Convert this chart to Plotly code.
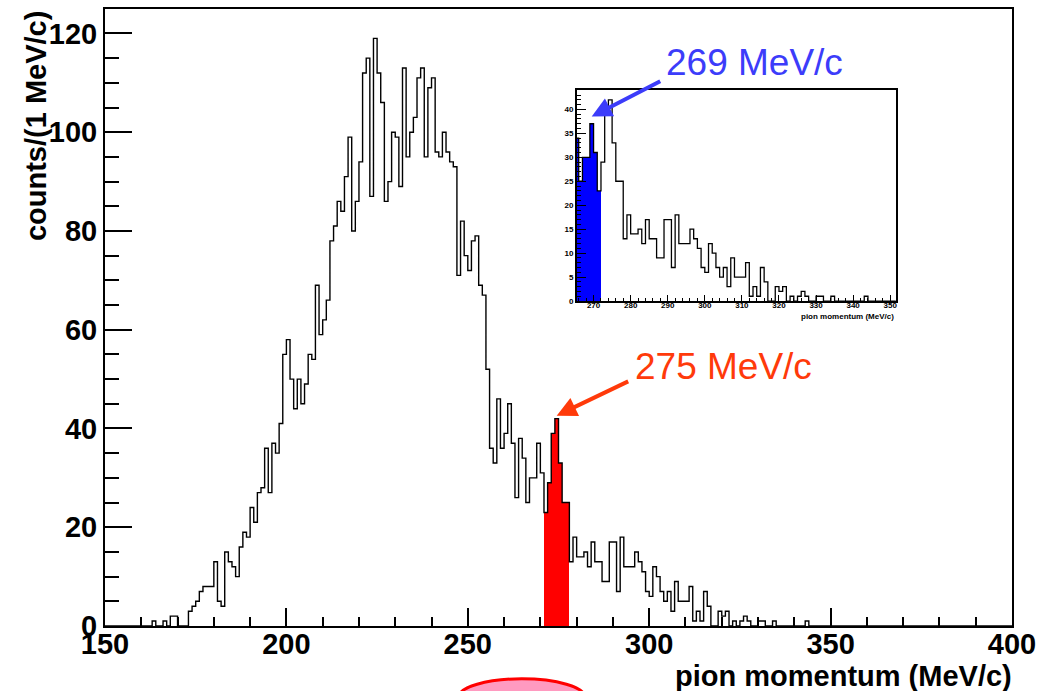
import numpy as np
import plotly.graph_objects as go

# Pion momentum spectrum, 1 MeV/c bins from 150 to 400 MeV/c
counts_150_199 = [
    0, 0, 0, 0, 0, 0, 0, 0, 0, 0,
    0, 0, 0, 1, 0, 0, 1, 0, 2, 2,
    0, 0, 0, 3, 4, 5, 7, 8, 8, 8,
    13, 5, 4, 15, 13, 12, 10, 16, 19, 18,
    24, 21, 27, 28, 36, 27, 37, 35, 41, 55,
]
counts_200_249 = [
    58, 50, 44, 50, 45, 49, 55, 54, 69, 59,
    62, 66, 78, 81, 86, 84, 91, 99, 80, 86,
    94, 112, 115, 87, 119, 112, 106, 86, 90, 100,
    99, 89, 113, 95, 100, 103, 111, 113, 95, 109,
    111, 96, 95, 100, 96, 94, 93, 71, 82, 75,
]
counts_250_299 = [
    72, 78, 79, 69, 67, 52, 36, 33, 46, 36,
    39, 45, 37, 26, 38, 34, 25, 30, 30, 37,
    31, 23, 29, 39, 42, 33, 25, 25, 13, 18,
    14, 14, 15, 12, 17, 13, 13, 9, 9, 17,
    17, 7, 18, 12, 12, 12, 15, 13, 11, 7,
]
counts_300_349 = [
    6, 12, 10, 7, 5, 7, 3, 9, 5, 5,
    5, 8, 1, 3, 1, 7, 4, 0, 0, 3,
    2, 3, 0, 1, 0, 1, 2, 1, 0, 0,
    1, 1, 0, 0, 1, 0, 0, 0, 0, 0,
    0, 0, 0, 1, 0, 0, 0, 0, 0, 0,
]
counts_350_399 = [0] * 50

# momentum windows highlighted in each panel (lower edge inclusive, upper exclusive)
red_window = (271, 278)
blue_window = (265, 272)
red_label = "275 MeV/c"
blue_label = "269 MeV/c"

x_title = "pion momentum (MeV/c)"
y_title = "counts/(1 MeV/c)"

FONT = "Liberation Sans, Arial, Helvetica, sans-serif"
RED_TXT = "#FF3A0A"
BLUE_TXT = "#3C3CFA"

counts = np.array(counts_150_199 + counts_200_249 + counts_250_299
                  + counts_300_349 + counts_350_399)
edges = np.arange(150, 401)
lo = edges[:-1]
centers = lo + 0.5
step_y = np.append(counts, counts[-1])

W, H = 1043, 691
L, R, T, B = 105, 25, 7, 65
PW, PH = W - L - R, H - T - B


def px_x(px):
    return (px - L) / PW


def px_y(py):
    return (H - B - py) / PH


red_mask = (lo >= red_window[0]) & (lo < red_window[1])
blue_mask = (lo >= blue_window[0]) & (lo < blue_window[1])

fig = go.Figure()

# main histogram: red window fill, then black step outline
fig.add_trace(go.Bar(x=centers[red_mask], y=counts[red_mask], width=1,
                     marker=dict(color="#FF0000", line=dict(width=0)),
                     xaxis="x", yaxis="y", hoverinfo="skip"))
fig.add_trace(go.Scatter(x=edges, y=step_y, mode="lines",
                         line=dict(shape="hv", color="black", width=1.4),
                         xaxis="x", yaxis="y"))

# inset: zoom on the high-momentum side with blue window
fig.add_trace(go.Bar(x=centers[blue_mask], y=counts[blue_mask], width=1,
                     marker=dict(color="#0000FF", line=dict(width=0)),
                     xaxis="x2", yaxis="y2", hoverinfo="skip"))
fig.add_trace(go.Scatter(x=edges, y=step_y, mode="lines",
                         line=dict(shape="hv", color="black", width=1.3),
                         xaxis="x2", yaxis="y2"))

tick_font = dict(family=FONT, size=29, color="black", weight="bold")
small_font = dict(family=FONT, size=8, color="black", weight="bold")

axis_common = dict(showline=True, linecolor="black", mirror=True,
                   showgrid=False, zeroline=False, ticks="inside",
                   tickcolor="black")

fig.update_layout(
    width=W, height=H,
    margin=dict(l=L, r=R, t=T, b=B, pad=0),
    paper_bgcolor="white", plot_bgcolor="white",
    showlegend=False, bargap=0, barmode="overlay",
    xaxis=dict(axis_common, range=[150, 400], linewidth=2,
               tick0=150, dtick=50, ticklen=18, tickwidth=1.5,
               minor=dict(dtick=10, ticklen=9, ticks="inside",
                          tickcolor="black", tickwidth=1.5),
               tickfont=tick_font, ticklabelstandoff=-9),
    yaxis=dict(axis_common, range=[0, 1.05 * counts.max()], linewidth=2,
               tick0=0, dtick=20, ticklen=27, tickwidth=1.5,
               minor=dict(dtick=5, ticklen=14, ticks="inside",
                          tickcolor="black", tickwidth=1.5),
               tickfont=tick_font),
    xaxis2=dict(axis_common, domain=[px_x(580), px_x(901)], anchor="y2",
                range=[265.5, 351.5], linewidth=1.5,
                tick0=270, dtick=10, ticklen=6, tickwidth=1,
                minor=dict(dtick=2, ticklen=3, ticks="inside",
                           tickcolor="black", tickwidth=1),
                tickfont=small_font, ticklabelstandoff=-4),
    yaxis2=dict(axis_common, domain=[px_y(300), px_y(88)], anchor="x2",
                range=[0, 1.05 * counts[(lo >= 265) & (lo < 352)].max()],
                linewidth=1.5,
                tick0=0, dtick=5, ticklen=9, tickwidth=1,
                minor=dict(dtick=1, ticklen=4.5, ticks="inside",
                           tickcolor="black", tickwidth=1),
                tickfont=small_font),
)

# axis titles, right-aligned at the far end of each axis
fig.add_annotation(text=x_title, xref="paper", yref="paper",
                   x=px_x(1020), y=px_y(676), xanchor="right", yanchor="middle",
                   showarrow=False,
                   font=dict(family=FONT, size=29, color="black", weight="bold"))
fig.add_annotation(text=y_title, xref="paper", yref="paper",
                   x=px_x(35), y=px_y(124), xanchor="center", yanchor="middle",
                   textangle=-90, showarrow=False,
                   font=dict(family=FONT, size=29, color="black", weight="bold"))
fig.add_annotation(text=x_title, xref="paper", yref="paper",
                   x=px_x(901), y=px_y(315), xanchor="right", yanchor="middle",
                   showarrow=False,
                   font=dict(family=FONT, size=8, color="black", weight="bold"))

# arrows to the peak of each highlighted window
r_idx = np.argmax(np.where(red_mask, counts, -1))
b_idx = np.argmax(np.where(blue_mask, counts, -1))
fig.add_annotation(x=centers[r_idx], y=counts[r_idx] + 0.6, xref="x", yref="y",
                   ax=73, ay=-35, text="", showarrow=True,
                   arrowhead=2, arrowsize=1, arrowwidth=4, arrowcolor=RED_TXT)
fig.add_annotation(x=centers[b_idx], y=counts[b_idx] + 1.5, xref="x2", yref="y2",
                   ax=70, ay=-36, text="", showarrow=True,
                   arrowhead=2, arrowsize=1, arrowwidth=4, arrowcolor=BLUE_TXT)
fig.add_annotation(text=red_label, xref="paper", yref="paper",
                   x=px_x(636), y=px_y(366), xanchor="left", yanchor="middle",
                   showarrow=False, font=dict(family=FONT, size=37, color=RED_TXT))
fig.add_annotation(text=blue_label, xref="paper", yref="paper",
                   x=px_x(668), y=px_y(60.5), xanchor="left", yanchor="middle",
                   showarrow=False, font=dict(family=FONT, size=37, color=BLUE_TXT))

# pink oval peeking in at the bottom edge
fig.add_shape(type="circle", xref="paper", yref="paper",
              x0=px_x(461), x1=px_x(588), y0=px_y(679), y1=px_y(716),
              line=dict(color="#FF0000", width=3), fillcolor="#FF9AC0",
              layer="above")

fig.write_html("out.html")
